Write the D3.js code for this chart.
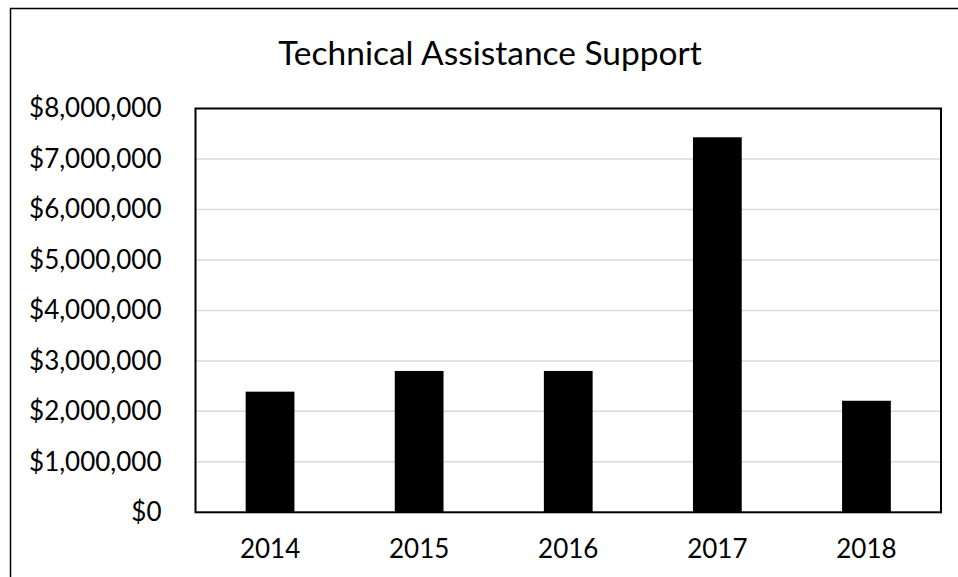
<!DOCTYPE html>
<html><head><meta charset="utf-8">
<script src="https://cdn.jsdelivr.net/npm/d3@7"></script>
<style>html,body{margin:0;padding:0;background:#fff;overflow:hidden}</style>
</head><body>
<script>
const title = "Technical Assistance Support";
const years = ["2014", "2015", "2016", "2017", "2018"];
const values = [2390000, 2800000, 2800000, 7430000, 2210000];
const yTicks = [0, 1000000, 2000000, 3000000, 4000000, 5000000, 6000000, 7000000, 8000000];

const W = 958, H = 577;
const font = "Lato, 'Open Sans', sans-serif";
const svg = d3.select("body").append("svg").attr("width", W).attr("height", H);

// outer chart frame (extends beyond viewport on right/bottom)
svg.append("rect").attr("x", 10.5).attr("y", 8.5).attr("width", 1000).attr("height", 1000)
  .attr("fill", "#fff").attr("stroke", "#000").attr("stroke-width", 1.5);

const plot = {left: 195.5, top: 108.5, right: 941, bottom: 512.3};
const x = d3.scaleBand().domain(years).range([plot.left, plot.right]).paddingInner(0.673).paddingOuter(0.3365);
const y = d3.scaleLinear().domain([0, 8000000]).range([plot.bottom, plot.top]);

// gridlines
svg.append("g").selectAll("line").data(yTicks.slice(1, -1)).join("line")
  .attr("x1", plot.left).attr("x2", plot.right)
  .attr("y1", d => y(d)).attr("y2", d => y(d))
  .attr("stroke", "#d9d9d9").attr("stroke-width", 1.5);

// bars
svg.append("g").selectAll("rect").data(values).join("rect")
  .attr("x", (d, i) => x(years[i])).attr("width", x.bandwidth())
  .attr("y", d => y(d)).attr("height", d => y(0) - y(d))
  .attr("fill", "#000");

// plot border
svg.append("rect").attr("x", plot.left).attr("y", plot.top)
  .attr("width", plot.right - plot.left).attr("height", plot.bottom - plot.top)
  .attr("fill", "none").attr("stroke", "#000").attr("stroke-width", 2);

// y axis
const fmt = d3.format("$,");
const yAxis = d3.axisLeft(y).tickValues(yTicks).tickFormat(d => fmt(d)).tickSize(0).tickPadding(34);
const gy = svg.append("g").attr("transform", `translate(${plot.left},0)`).call(yAxis);
gy.select(".domain").remove();
gy.selectAll("text").attr("font-family", font).attr("font-size", 26).attr("fill", "#000");

// x axis
const xAxis = d3.axisBottom(x).tickSize(0).tickPadding(27);
const gx = svg.append("g").attr("transform", `translate(0,${plot.bottom})`).call(xAxis);
gx.select(".domain").remove();
gx.selectAll("text").attr("font-family", font).attr("font-size", 26).attr("fill", "#000");

// title
svg.append("text").attr("x", 490).attr("y", 65).attr("text-anchor", "middle")
  .attr("font-family", font).attr("font-size", 33.5).attr("fill", "#000").text(title);
</script>
</body></html>
